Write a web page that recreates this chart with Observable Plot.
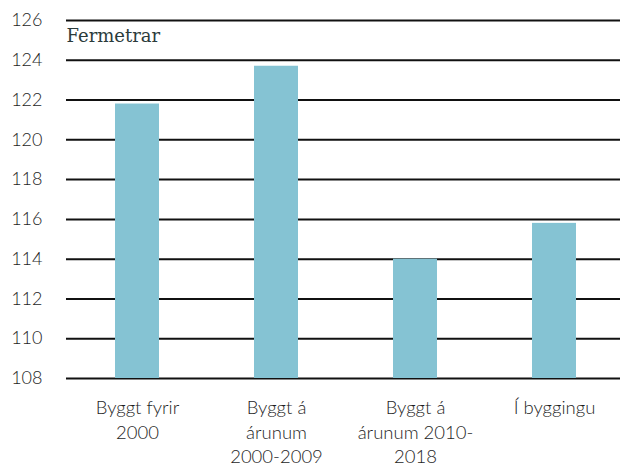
<!DOCTYPE html>
<html><head><meta charset="utf-8">
<script src="https://cdn.jsdelivr.net/npm/d3@7"></script>
<script src="https://cdn.jsdelivr.net/npm/@observablehq/plot@0.6"></script>
<style>html,body{margin:0;padding:0;background:#fff;overflow:hidden}</style>
</head><body><div id="chart"></div>
<script>
const categories = ["Byggt fyrir 2000", "Byggt á árunum 2000-2009", "Byggt á árunum 2010-2018", "Í byggingu"];
const values = [121.8, 123.7, 114.0, 115.8];
const tickLabels = ["Byggt fyrir\n2000", "Byggt á\nárunum\n2000-2009", "Byggt á\nárunum 2010-\n2018", "Í byggingu"];
const yTicks = [108, 110, 112, 114, 116, 118, 120, 122, 124, 126];
const yMin = 108, yMax = 126;
const unitLabel = "Fermetrar";

const data = categories.map((c, i) => ({category: c, value: values[i]}));
const labelMap = new Map(categories.map((c, i) => [c, tickLabels[i]]));

const chart = Plot.plot({
  width: 620, height: 468,
  marginTop: 20, marginBottom: 90, marginLeft: 66, marginRight: 0,
  style: {fontFamily: "Lato, sans-serif", fontSize: "18px", color: "#1e1e1e", background: "#fff"},
  x: {domain: categories, range: [66.25, 624.25], paddingInner: 0.685, paddingOuter: 0.3425},
  y: {domain: [yMin, yMax]},
  marks: [
    Plot.ruleY(yTicks, {stroke: "#111", strokeWidth: 2}),
    Plot.barY(data, {x: "category", y1: d => yMin, y2: "value", fill: "#85c3d3"}),
    Plot.axisY({ticks: yTicks, tickSize: 0, tickPadding: 24, label: null, fontSize: 18, fontWeight: 300}),
    Plot.axisX({tickSize: 0, tickPadding: 18, label: null, fontSize: 18.5, fontWeight: 300, lineHeight: 1.33,
      tickFormat: d => labelMap.get(d)}),
    Plot.text([unitLabel], {frameAnchor: "top-left", lineAnchor: "top", textAnchor: "start", dy: 9,
      fontFamily: "DejaVu Serif", fontSize: 18, fill: "#2b3b3b"})
  ]
});
document.getElementById("chart").appendChild(chart);
</script>
</body></html>
